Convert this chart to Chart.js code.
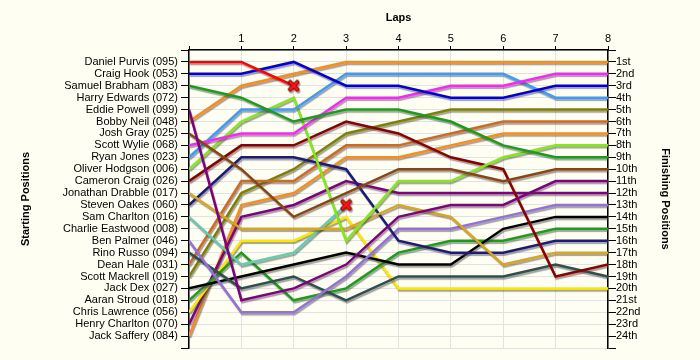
<!DOCTYPE html>
<html lang="en">
<head>
  <meta charset="UTF-8">
  <title>Lap chart</title>
  <script src="https://cdn.jsdelivr.net/npm/chart.js"></script>
  <style>
    body {
      margin: 0;
      background-color: #fffef3;
    }
    #wrap {
      width: 700px;
      height: 360px;
    }
  </style>
</head>
<body>
  <div id="wrap">
    <canvas id="lapChart" width="700" height="360"></canvas>
  </div>

  <script>
    // laps along the top axis (0 = starting grid)
    const laps = [0, 1, 2, 3, 4, 5, 6, 7, 8];

    // starting grid, top to bottom
    const drivers = [
      'Daniel Purvis (095)', 'Craig Hook (053)', 'Samuel Brabham (083)', 'Harry Edwards (072)',
      'Eddie Powell (099)', 'Bobby Neil (048)', 'Josh Gray (025)', 'Scott Wylie (068)',
      'Ryan Jones (023)', 'Oliver Hodgson (006)', 'Cameron Craig (026)', 'Jonathan Drabble (017)',
      'Steven Oakes (060)', 'Sam Charlton (016)', 'Charlie Eastwood (008)', 'Ben Palmer (046)',
      'Rino Russo (094)', 'Dean Hale (031)', 'Scott Mackrell (019)', 'Jack Dex (027)',
      'Aaran Stroud (018)', 'Chris Lawrence (056)', 'Henry Charlton (070)', 'Jack Saffery (084)'
    ];

    const finishLabels = [
      '1st', '2nd', '3rd', '4th', '5th', '6th', '7th', '8th', '9th', '10th', '11th', '12th',
      '13th', '14th', '15th', '16th', '17th', '18th', '19th', '20th', '21st', '22nd', '23rd', '24th'
    ];

    // position after each lap, same order as drivers. short row = retired, empty = no start
    const positions = [
      [1, 1, 3],                            // Daniel Purvis
      [2, 2, 1, 3, 3, 4, 4, 3, 3],          // Craig Hook
      [3, 4, 6, 5, 5, 6, 8, 9, 9],          // Samuel Brabham
      [],                                   // Harry Edwards
      [5, 21, 20, 18, 14, 13, 13, 11, 11],  // Eddie Powell
      [6, 3, 2, 1, 1, 1, 1, 1, 1],          // Bobby Neil
      [7, 10, 14, 12, 10, 10, 11, 10, 10],  // Josh Gray
      [8, 7, 7, 4, 4, 3, 3, 2, 2],          // Scott Wylie
      [9, 5, 5, 2, 2, 2, 2, 4, 4],          // Ryan Jones
      [10, 6, 4, 16, 11, 11, 9, 8, 8],      // Oliver Hodgson
      [11, 8, 8, 6, 7, 9, 10, 19, 18],      // Cameron Craig
      [12, 15, 15, 15, 13, 14, 18, 17, 17], // Jonathan Drabble
      [13, 9, 9, 10, 16, 17, 17, 16, 16],   // Steven Oakes
      [14, 18, 17, 13],                     // Sam Charlton
      [],                                   // Charlie Eastwood
      [16, 22, 22, 19, 15, 15, 14, 13, 13], // Ben Palmer
      [17, 20, 19, 21, 19, 19, 19, 18, 19], // Rino Russo
      [18, 11, 11, 8, 8, 7, 6, 6, 6],       // Dean Hale
      [19, 12, 10, 7, 6, 5, 5, 5, 5],       // Scott Mackrell
      [20, 19, 18, 17, 18, 18, 15, 14, 14], // Jack Dex
      [21, 17, 21, 20, 17, 16, 16, 15, 15], // Aaran Stroud
      [22, 16, 16, 14, 20, 20, 20, 20, 20], // Chris Lawrence
      [23, 14, 13, 11, 12, 12, 12, 12, 12], // Henry Charlton
      [24, 13, 12, 9, 9, 8, 7, 7, 7]        // Jack Saffery
    ];

    const colours = [
      '#ff0000', '#0000dd', '#1a9e1a', '#000000',
      '#800080', '#ff8a14', '#8b4513', '#ff22ff',
      '#3a9cff', '#84e81a', '#8b0000', '#daa520',
      '#1c1c78', '#66cdaa', '#000000', '#9370db',
      '#2f4f4f', '#d2691e', '#808000', '#000000',
      '#1a9e1a', '#ffe800', '#800080', '#ff8a14'
    ];

    // red cross drawn where a driver retired
    function makeCross() {
      var c = document.createElement('canvas');
      c.width = 13;
      c.height = 13;
      var g = c.getContext('2d');
      g.lineCap = 'round';
      [['#7a0000', 4.5], ['#ff1414', 2.5]].forEach(function (s) {
        g.strokeStyle = s[0];
        g.lineWidth = s[1];
        g.beginPath();
        g.moveTo(3, 3); g.lineTo(10, 10);
        g.moveTo(10, 3); g.lineTo(3, 10);
        g.stroke();
      });
      return c;
    }
    var cross = makeCross();

    var datasets = [];
    drivers.forEach(function (name, i) {
      var pos = positions[i];
      if (!pos.length) return;
      var retired = pos.length < laps.length;
      datasets.push({
        label: name,
        data: pos.map(function (p, k) { return { x: laps[k], y: p }; }),
        borderColor: colours[i],
        backgroundColor: colours[i],
        borderWidth: 2.5,
        tension: 0,
        fill: false,
        pointStyle: cross,
        pointRadius: function (ctx) {
          return retired && ctx.dataIndex === pos.length - 1 ? 6 : 0;
        },
        pointHoverRadius: 0
      });
    });

    // grey drop shadow under the lines
    var shadowPlugin = {
      id: 'lineShadow',
      beforeDatasetsDraw: function (chart) {
        var c = chart.ctx;
        c.save();
        c.shadowColor = 'rgba(70, 70, 70, 0.5)';
        c.shadowOffsetX = 1;
        c.shadowOffsetY = 2;
        c.shadowBlur = 1;
      },
      afterDatasetsDraw: function (chart) {
        chart.ctx.restore();
      }
    };

    Chart.defaults.font.family = "'Liberation Sans', Arial, sans-serif";
    Chart.defaults.font.size = 11;
    Chart.defaults.color = '#000';

    var gridColour = '#e2e2e2';
    var titleFont = { size: 11, weight: 'bold' };

    var ctx = document.getElementById('lapChart').getContext('2d');
    var lapChart = new Chart(ctx, {
      type: 'line',
      data: { datasets: datasets },
      plugins: [shadowPlugin],
      options: {
        responsive: false,
        animation: false,
        layout: { padding: { left: 0, right: 0, top: 0, bottom: 12 } },
        plugins: {
          legend: { display: false },
          tooltip: { enabled: false }
        },
        scales: {
          x: {
            type: 'linear',
            position: 'top',
            min: 0,
            max: 8,
            ticks: {
              stepSize: 1,
              padding: 0,
              callback: function (v) { return v === 0 ? '' : v; }
            },
            grid: { color: gridColour, tickColor: '#000', tickLength: 4 },
            border: { color: '#000', width: 1.5 },
            title: { display: true, text: 'Laps', font: titleFont, padding: { top: 11, bottom: 0 } },
            afterFit: function (s) { s.height = 50; }
          },
          y: {
            type: 'linear',
            position: 'left',
            reverse: true,
            min: 0,
            max: 25,
            ticks: {
              stepSize: 1,
              autoSkip: false,
              padding: 3,
              callback: function (v) { return drivers[v - 1] || ''; }
            },
            grid: { color: gridColour, tickColor: '#000', tickLength: 8 },
            border: { color: '#000', width: 1.5 },
            title: { display: true, text: 'Starting Positions', font: titleFont, padding: { top: 19, bottom: 0 } },
            afterFit: function (s) { s.width = 189; }
          },
          yRight: {
            type: 'linear',
            position: 'right',
            reverse: true,
            min: 0,
            max: 25,
            ticks: {
              stepSize: 1,
              autoSkip: false,
              padding: 0,
              callback: function (v) { return finishLabels[v - 1] || ''; }
            },
            grid: { drawOnChartArea: false, tickColor: '#000', tickLength: 8 },
            border: { color: '#000', width: 1.5 },
            title: { display: true, text: 'Finishing Positions', font: titleFont, padding: { top: 28, bottom: 0 } },
            afterFit: function (s) { s.width = 92; }
          }
        }
      }
    });
  </script>
</body>
</html>
